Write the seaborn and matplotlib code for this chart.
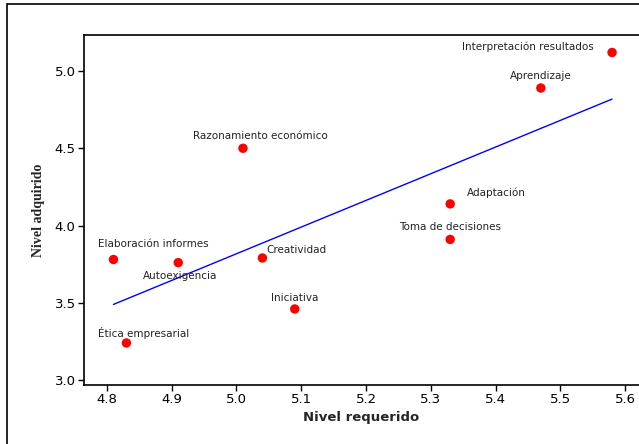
import matplotlib
matplotlib.use('Agg')
import matplotlib.pyplot as plt
import matplotlib.patches as patches
import seaborn as sns
import pandas as pd

# competencias: nivel requerido vs nivel adquirido
competencias = ['Interpretación resultados', 'Aprendizaje', 'Razonamiento económico',
                'Adaptación', 'Toma de decisiones', 'Elaboración informes',
                'Autoexigencia', 'Creatividad', 'Iniciativa', 'Ética empresarial']
requerido = [5.58, 5.47, 5.01, 5.33, 5.33, 4.81, 4.91, 5.04, 5.09, 4.83]
adquirido = [5.12, 4.89, 4.50, 4.14, 3.91, 3.78, 3.76, 3.79, 3.46, 3.24]

data = pd.DataFrame({'competencia': competencias, 'requerido': requerido, 'adquirido': adquirido})

# label placement (pixel offsets from the point)
label_pos = {
    'Interpretación resultados': (-18, 6, 'right'),
    'Aprendizaje': (0, 12, 'center'),
    'Razonamiento económico': (17, 12, 'center'),
    'Adaptación': (17, 11, 'left'),
    'Toma de decisiones': (0, 12, 'center'),
    'Elaboración informes': (-15, 16, 'left'),
    'Autoexigencia': (2, -13, 'center'),
    'Creatividad': (4, 8, 'left'),
    'Iniciativa': (0, 11, 'center'),
    'Ética empresarial': (-28, 10, 'left'),
}

sns.set_style('ticks')
plt.rcParams['font.family'] = ['DejaVu Sans']

fig = plt.figure(figsize=(6.39, 4.44), dpi=100)
ax = fig.add_axes([84 / 639, 1 - 385 / 444, 1 - 84 / 639, (385 - 35) / 444])

# outer frame
fig.patches.append(patches.Rectangle((7 / 639, -0.1), 1.2, 1 - 4 / 444 + 0.1,
                                     transform=fig.transFigure, fill=False,
                                     edgecolor='black', linewidth=1.2))

sns.regplot(x='requerido', y='adquirido', data=data, ci=None, truncate=True, ax=ax,
            scatter_kws={'color': 'red', 's': 46, 'edgecolor': 'none', 'alpha': 1, 'zorder': 3},
            line_kws={'color': 'blue', 'linewidth': 1})

for _, row in data.iterrows():
    dx, dy, ha = label_pos[row['competencia']]
    ax.annotate(row['competencia'], (row['requerido'], row['adquirido']),
                xytext=(dx, dy), textcoords='offset pixels', ha=ha, va='center',
                fontsize=7.5, color='#222222')

ax.set_xlim(4.7645, 5.6216)
ax.set_ylim(2.968, 5.233)
ax.set_xticks([4.8, 4.9, 5.0, 5.1, 5.2, 5.3, 5.4, 5.5, 5.6])
ax.set_yticks([3.0, 3.5, 4.0, 4.5, 5.0])
ax.tick_params(labelsize=9.5, length=4, width=1, colors='black', pad=2)
ax.spines['right'].set_visible(False)
for s in ['left', 'bottom', 'top']:
    ax.spines[s].set_linewidth(1.2)
    ax.spines[s].set_color('black')

ax.set_xlabel('Nivel requerido', fontsize=9.5, fontweight='bold', labelpad=3)
ax.set_ylabel('Nivel adquirido', fontsize=10, fontweight='bold',
              family=['Liberation Serif'], labelpad=7)

fig.savefig('out.png', dpi=100)
